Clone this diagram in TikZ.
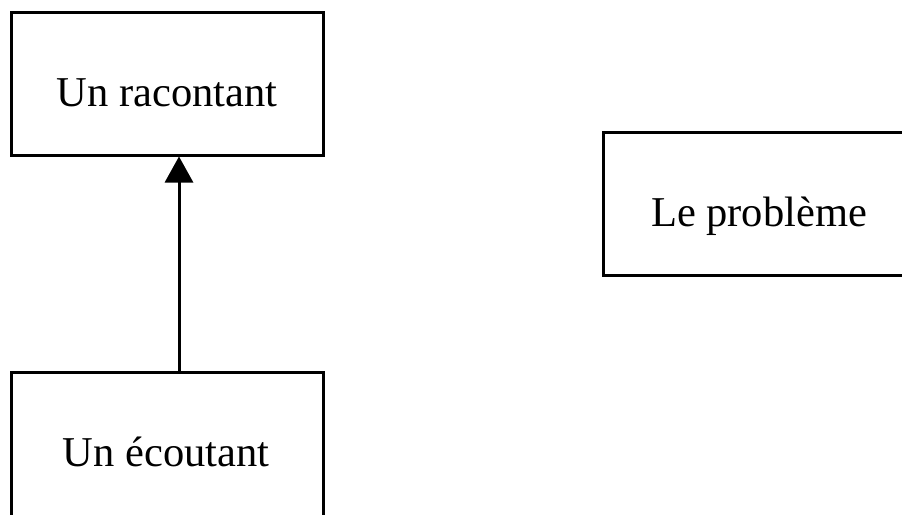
\documentclass[tikz,border=0pt]{standalone}
\usepackage{fontspec}
\setmainfont{Liberation Serif}
\usetikzlibrary{arrows.meta}
\begin{document}
\begin{tikzpicture}[x=1pt,y=-1pt,
  box/.style={draw=black,line width=3pt,rectangle,inner sep=0pt},
  lbl/.style={anchor=base,inner sep=0pt,font=\fontsize{42.5}{50}\selectfont}]
\useasboundingbox (0,0) rectangle (902,514);
\clip (0,0) rectangle (902,514);
% boxes
\node[box,minimum width=312pt,minimum height=143pt] (rac) at (167,83.5) {};
\node[box,minimum width=317pt,minimum height=143pt] (pro) at (761.5,203.5) {};
\node[box,minimum width=312pt,minimum height=160pt] (eco) at (167,452) {};
% labels
\node[lbl] (racT) at (167,106) {Un racontant};
\node[lbl] (proT) at (759,226) {Le problème};
\node[lbl] (ecoT) at (166,466) {Un écoutant};
% connector
\draw[line width=3pt,-{Triangle[width=28pt,length=26pt]}] (eco.north -| 179,0) -- (rac.south -| 179,0);
\end{tikzpicture}
\end{document}
